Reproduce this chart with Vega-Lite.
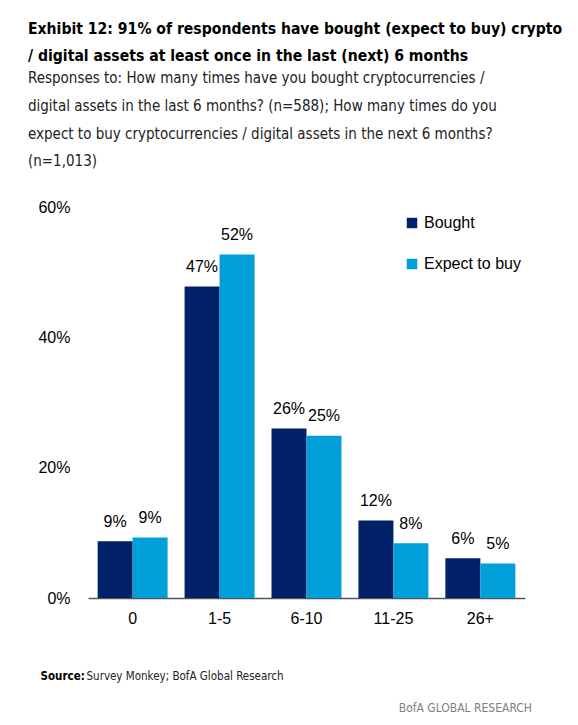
{
  "$schema": "https://vega.github.io/schema/vega-lite/v6.json",
  "background": "white",
  "padding": {"left": 27, "top": 21, "right": 10, "bottom": 8},
  "config": {
    "view": {"stroke": null},
    "font": "Liberation Sans",
    "concat": {"spacing": 0}
  },
  "title": {
    "text": ["Exhibit 12: 91% of respondents have bought (expect to buy) crypto", "/ digital assets at least once in the last (next) 6 months"],
    "subtitle": ["Responses to: How many times have you bought cryptocurrencies /", "digital assets in the last 6 months? (n=588); How many times do you", "expect to buy cryptocurrencies / digital assets in the next 6 months?", "(n=1,013)"],
    "anchor": "start",
    "frame": "bounds",
    "dx": -10,
    "font": "Liberation Sans Narrow, DejaVu Sans Condensed, sans-serif",
    "fontSize": 15.6,
    "fontWeight": "bold",
    "color": "#000000",
    "lineHeight": 27,
    "subtitleFont": "Liberation Sans Narrow, DejaVu Sans Condensed, sans-serif",
    "subtitleFontSize": 15,
    "subtitleFontWeight": "normal",
    "subtitleColor": "#222222",
    "subtitleLineHeight": 27.5,
    "subtitlePadding": 7,
    "offset": 30
  },
  "vconcat": [
    {
      "width": 437,
      "height": 391,
      "title": {
        "text": "BofA GLOBAL RESEARCH",
        "orient": "bottom",
        "anchor": "end",
        "font": "Liberation Sans Narrow, DejaVu Sans Condensed, sans-serif",
        "fontSize": 12,
        "fontWeight": "normal",
        "color": "#808080",
        "offset": 21,
        "dx": 7
      },
      "data": {
        "values": [
          {"freq": "0", "series": "Bought", "pct": 8.7, "label": "9%"},
          {"freq": "0", "series": "Expect to buy", "pct": 9.3, "label": "9%"},
          {"freq": "1-5", "series": "Bought", "pct": 47.8, "label": "47%"},
          {"freq": "1-5", "series": "Expect to buy", "pct": 52.7, "label": "52%"},
          {"freq": "6-10", "series": "Bought", "pct": 26.0, "label": "26%"},
          {"freq": "6-10", "series": "Expect to buy", "pct": 24.9, "label": "25%"},
          {"freq": "11-25", "series": "Bought", "pct": 11.9, "label": "12%"},
          {"freq": "11-25", "series": "Expect to buy", "pct": 8.4, "label": "8%"},
          {"freq": "26+", "series": "Bought", "pct": 6.1, "label": "6%"},
          {"freq": "26+", "series": "Expect to buy", "pct": 5.3, "label": "5%"}
        ]
      },
      "encoding": {
        "x": {
          "field": "freq",
          "type": "nominal",
          "sort": ["0", "1-5", "6-10", "11-25", "26+"],
          "scale": {"paddingInner": 0.195, "paddingOuter": 0.111},
          "axis": {
            "title": "Source:",
            "titleFont": "Liberation Sans Narrow, DejaVu Sans Condensed, sans-serif",
            "titleFontSize": 11.5,
            "titleFontWeight": "bold",
            "titleColor": "#000000",
            "titleAnchor": "start",
            "titleAlign": "left",
            "titleBaseline": "middle",
            "titleX": -48,
            "titleY": 78,
            "labelAngle": 0,
            "labelFontSize": 16,
            "labelColor": "#000000",
            "labelPadding": 12,
            "ticks": false,
            "domainColor": "#555555",
            "domainWidth": 1.5
          }
        },
        "xOffset": {
          "field": "series",
          "type": "nominal",
          "sort": ["Bought", "Expect to buy"],
          "scale": {"paddingInner": 0, "paddingOuter": 0}
        },
        "y": {
          "field": "pct",
          "type": "quantitative",
          "scale": {"domain": [0, 60]},
          "axis": {
            "values": [0, 20, 40, 60],
            "labelExpr": "datum.value + '%'",
            "labelFontSize": 16,
            "labelColor": "#000000",
            "labelPadding": 18,
            "ticks": false,
            "domain": false,
            "grid": false,
            "title": "Survey Monkey; BofA Global Research",
            "titleAngle": 0,
            "titleFont": "Liberation Sans Narrow, DejaVu Sans Condensed, sans-serif",
            "titleFontSize": 11.5,
            "titleFontWeight": "normal",
            "titleColor": "#222222",
            "titleAlign": "left",
            "titleBaseline": "middle",
            "titleX": -2,
            "titleY": 469
          }
        }
      },
      "layer": [
        {
          "mark": {"type": "bar"},
          "encoding": {
            "color": {
              "field": "series",
              "type": "nominal",
              "sort": ["Bought", "Expect to buy"],
              "scale": {"domain": ["Bought", "Expect to buy"], "range": ["#012169", "#009FDA"]},
              "legend": {
                "title": null,
                "orient": "none",
                "legendX": 316,
                "legendY": 8,
                "symbolType": "square",
                "symbolSize": 110,
                "symbolStrokeWidth": 0,
                "labelFontSize": 16,
                "labelColor": "#000000",
                "labelOffset": 4,
                "rowPadding": 25
              }
            }
          }
        },
        {
          "mark": {"type": "text", "fontSize": 16, "color": "#000000", "baseline": "alphabetic", "dy": -14.5},
          "encoding": {
            "text": {"field": "label"}
          }
        }
      ]
    }
  ]
}
